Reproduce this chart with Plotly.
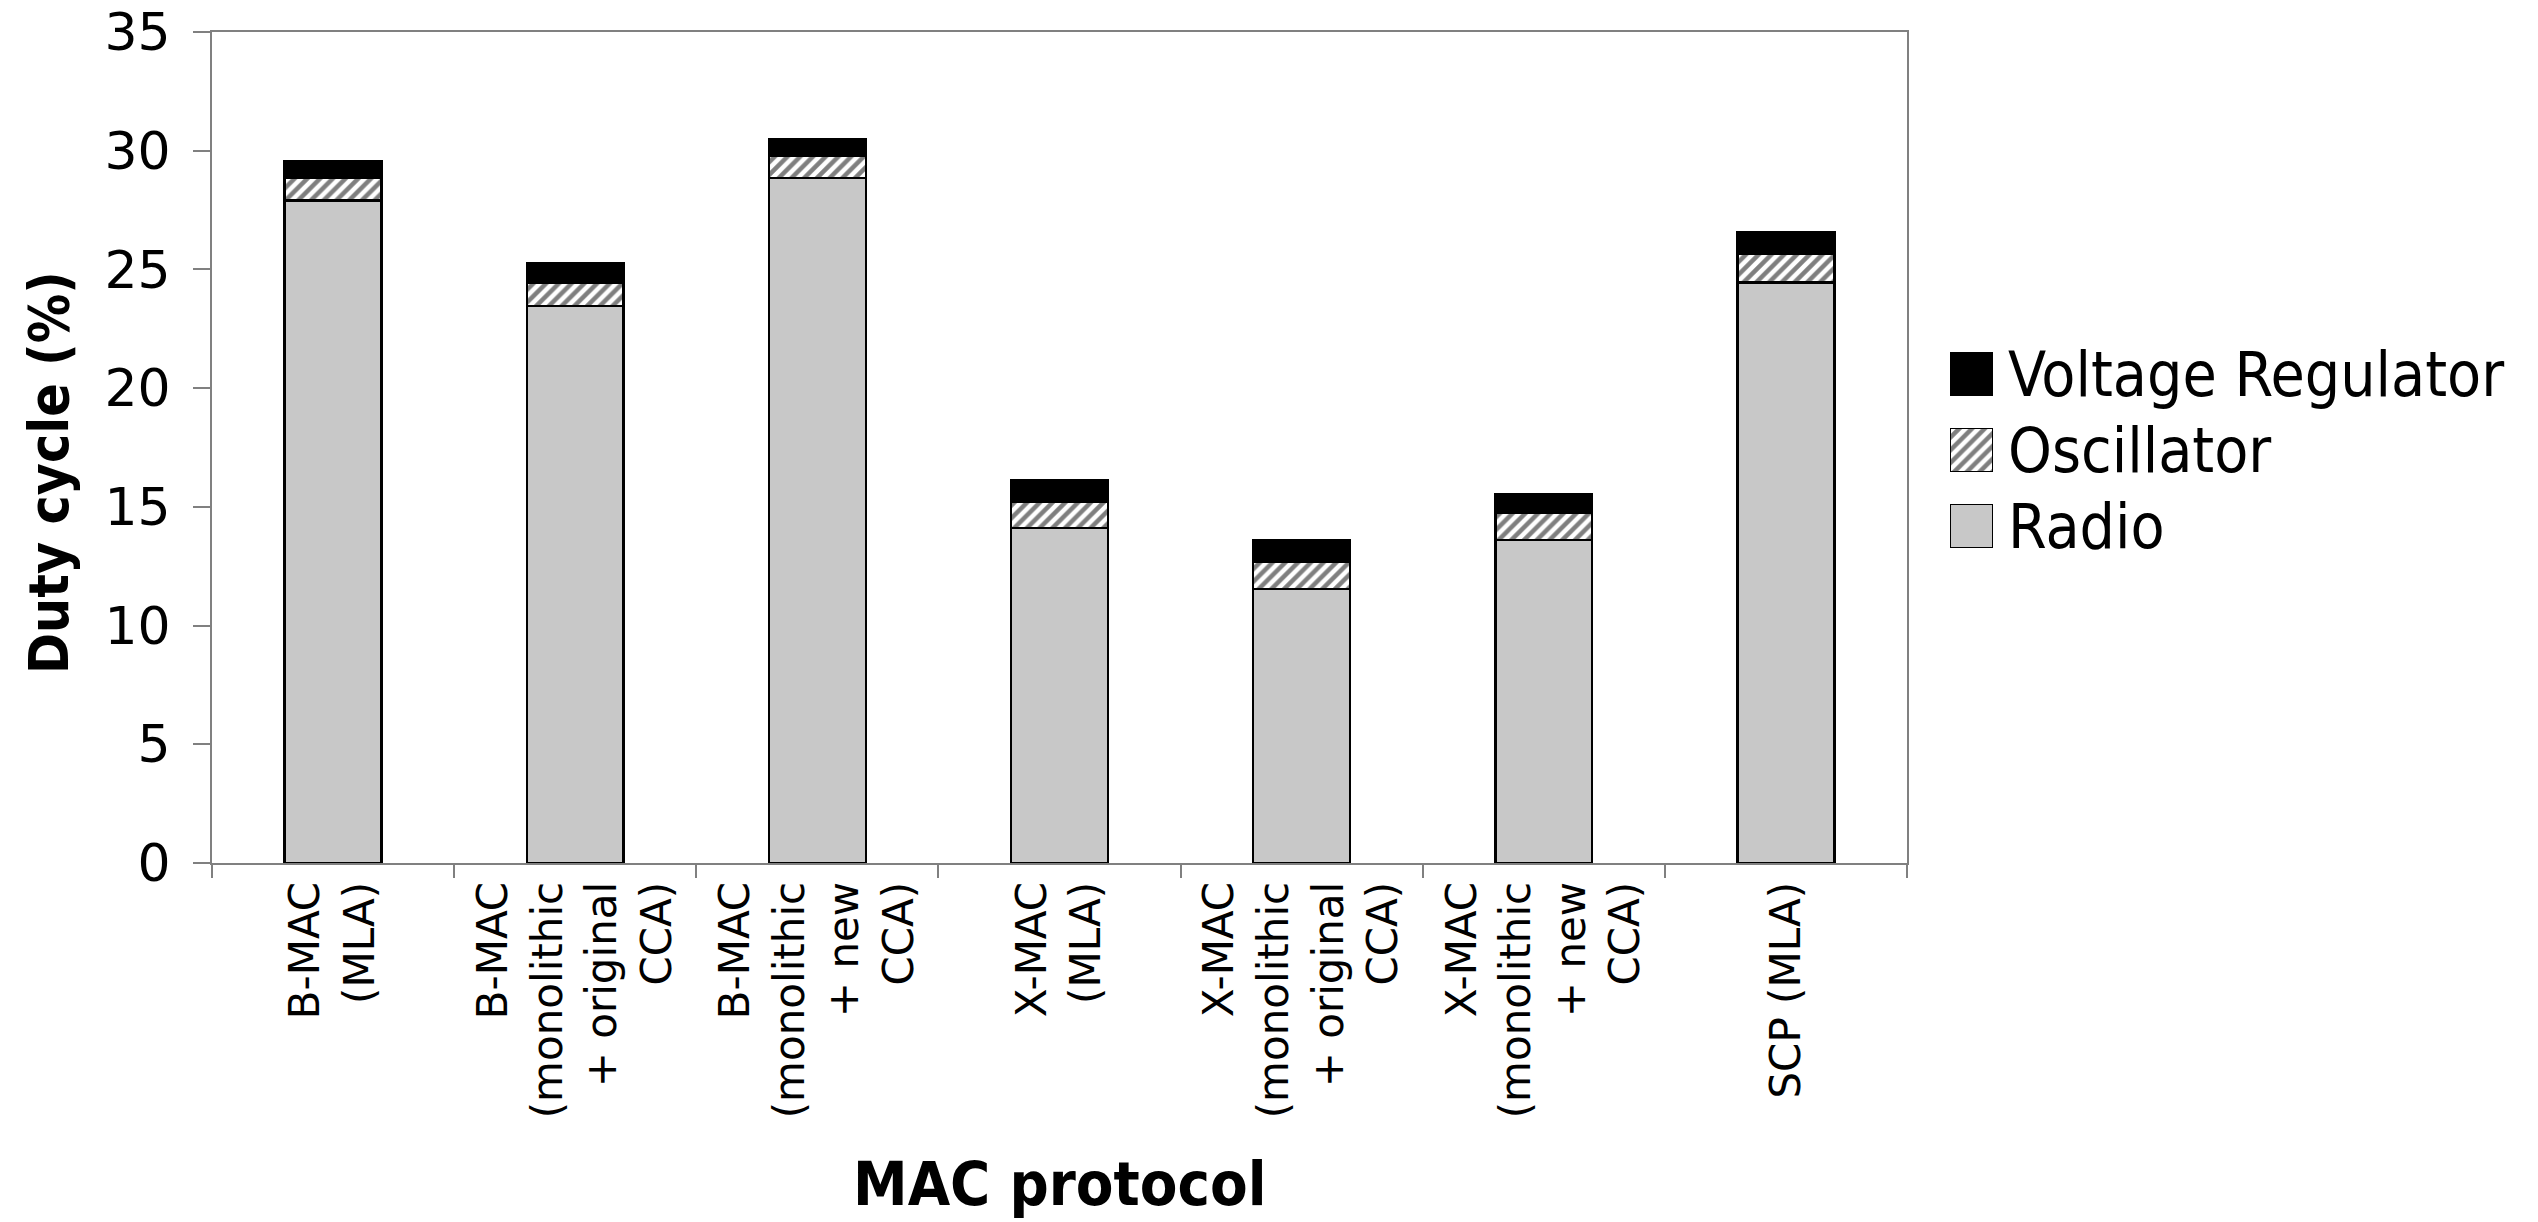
import plotly.graph_objects as go

categories = [
    "B-MAC<br>(MLA)",
    "B-MAC<br>(monolithic<br>+ original<br>CCA)",
    "B-MAC<br>(monolithic<br>+ new<br>CCA)",
    "X-MAC<br>(MLA)",
    "X-MAC<br>(monolithic<br>+ original<br>CCA)",
    "X-MAC<br>(monolithic<br>+ new<br>CCA)",
    "SCP (MLA)",
]
radio = [27.9, 23.45, 28.85, 14.1, 11.55, 13.6, 24.45]
oscillator = [0.95, 1.0, 0.95, 1.1, 1.15, 1.15, 1.2]
voltage_regulator = [0.7, 0.8, 0.7, 0.9, 0.9, 0.8, 0.9]
series_names = ["Radio", "Oscillator", "Voltage Regulator"]
y_ticks = [0, 5, 10, 15, 20, 25, 30, 35]
x_title = "MAC protocol"
y_title = "Duty cycle (%)"

W, H = 2538, 1222
PL, PR, PT, PB = 212, 1907, 32, 863  # plot area in pixels

GRAY = "#C8C8C8"
OUT = dict(color="black", width=2.5)
hatch = dict(shape="/", fgcolor="black", bgcolor="white", size=9, solidity=0.5)

fig = go.Figure()
fig.add_trace(go.Bar(x=categories, y=radio, name=series_names[0], width=0.4,
                     marker=dict(color=GRAY, line=OUT), showlegend=False))
fig.add_trace(go.Bar(x=categories, y=oscillator, name=series_names[1], width=0.4,
                     marker=dict(color="white", line=OUT, pattern=hatch), showlegend=False))
fig.add_trace(go.Bar(x=categories, y=voltage_regulator, name=series_names[2], width=0.4,
                     marker=dict(color="black", line=OUT), showlegend=False))

# legend swatches drawn as bars on a small auxiliary axis, text via its tick labels
legend_styles = [
    dict(color=GRAY, line=dict(color="black", width=1.5)),
    dict(color="white", line=dict(color="black", width=1.5), pattern=hatch),
    dict(color="black", line=dict(color="black", width=1.5)),
]
for name, mk in zip(series_names, legend_styles):
    fig.add_trace(go.Bar(y=[name], x=[1], orientation="h", width=0.57, marker=mk,
                         xaxis="x2", yaxis="y2", showlegend=False, hoverinfo="skip"))

tick_font = dict(family="DejaVu Sans, Verdana, sans-serif", color="black")
title_font = dict(family="Liberation Sans Narrow, DejaVu Sans Condensed, Arial Narrow, sans-serif",
                  color="black")

fig.update_layout(
    width=W, height=H,
    margin=dict(l=0, r=0, t=0, b=0, pad=0),
    paper_bgcolor="white", plot_bgcolor="white",
    barmode="stack",
    showlegend=False,
    xaxis=dict(
        domain=[PL / W, PR / W],
        automargin=False,
        type="category",
        tickangle=-90,
        tickfont=dict(size=42, **tick_font),
        ticks="outside", ticklen=13, tickwidth=2, tickcolor="#808080",
        tickson="boundaries",
        showline=True, linecolor="#808080", linewidth=2, mirror=True,
        showgrid=False,
    ),
    yaxis=dict(
        domain=[1 - PB / H, 1 - PT / H],
        automargin=False,
        range=[0, 35],
        tickvals=y_ticks,
        tickfont=dict(size=52, **tick_font),
        ticks="outside", ticklen=17, tickwidth=2, tickcolor="#808080",
        ticklabelstandoff=12,
        showline=True, linecolor="#808080", linewidth=2, mirror=True,
        showgrid=False, zeroline=False,
    ),
    xaxis2=dict(domain=[1950 / W, 1993 / W], range=[0, 1], anchor="y2",
                automargin=False, visible=False, fixedrange=True),
    yaxis2=dict(domain=[1 - 564 / H, 1 - 336 / H], anchor="x2", side="right",
                automargin=False,
                type="category", categoryorder="array", categoryarray=series_names,
                tickmode="array", tickvals=series_names,
                showline=False, showgrid=False, zeroline=False, ticks="",
                ticklabelstandoff=14,
                tickfont=dict(size=62, family="DejaVu Sans Condensed, DejaVu Sans, sans-serif",
                              color="black")),
    annotations=[
        dict(text="<b>%s</b>" % y_title, textangle=-90, xref="paper", yref="paper",
             x=49 / W, y=1 - 473 / H, xanchor="center", yanchor="middle",
             showarrow=False, font=dict(size=55, **title_font)),
        dict(text="<b>%s</b>" % x_title, xref="paper", yref="paper",
             x=1060 / W, y=1 - 1183 / H, xanchor="center", yanchor="middle",
             showarrow=False, font=dict(size=61, **title_font)),
    ],
)

fig.write_html("out.html")
